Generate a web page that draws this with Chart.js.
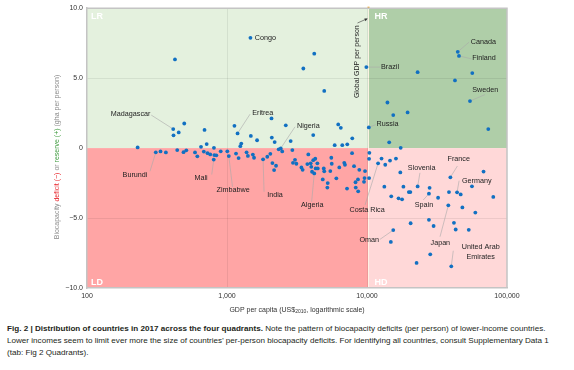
<!DOCTYPE html>
<html>
<head>
<meta charset="utf-8">
<script src="https://cdn.jsdelivr.net/npm/chart.js@4.4.1/dist/chart.umd.min.js"></script>
<style>
body{margin:0;background:#fff;width:574px;height:370px;overflow:hidden;position:relative}
#wrap{position:absolute;left:0;top:0;width:574px;height:320px}
#cap{position:absolute;left:7px;top:323px;font-family:'Liberation Sans',Arial,sans-serif;font-size:8.1px;line-height:12px;color:#231f20;white-space:nowrap}
</style>
</head>
<body>
<div id="wrap"><canvas id="quadChart" width="574" height="320"></canvas></div>
<div id="cap"><b>Fig. 2 | Distribution of countries in 2017 across the four quadrants.</b> Note the pattern of biocapacity deficits (per person) of lower-income countries.<br>Lower incomes seem to limit ever more the size of countries’ per-person biocapacity deficits. For identifying all countries, consult Supplementary Data 1<br>(tab: Fig 2 Quadrants).</div>
<script>
// named countries first, then the rest (GDP per capita US$2010, biocapacity balance gha/person)
const countries=["Congo","Madagascar","Eritrea","Nigeria","Brazil","Russia","Canada","Finland","Sweden",
"Burundi","Mali","Zimbabwe","India","Algeria","Costa Rica","Oman","Slovenia","France","Spain","Germany","Japan","United Arab\nEmirates"]

const gdp=[1470,413,1190,2420,9890,10300,44500,45400,54400,
310,804,1030,1810,4200,12000,15400,23000,39400,27700,44000,38100,40000,
230,425,452,495,415,691,1130,1265,1245,652,716,807,4200,3510,4950,2080,2630,1480,1640,2090,2190,2850,4130,
6230,6500,7850,5880,6660,7230,2340,2480,2930,
23000,56500,42500,14000,15400,19500,73500,14400,17400,
335,366,441,489,512,591,614,683,726,759,812,839,902,1005,1160,1210,1380,1410,1530,1560,1940,2040,2110,2240,2170,
3810,2960,3060,3130,3400,3470,3750,3960,4000,4130,4270,4420,4300,4450,4050,4910,4950,5470,5560,5600,6340,6880,6960,
7820,8080,8810,9680,4830,5240,5210,6040,7200,8280,8310,8650,9520,8620,9600,
10400,10350,10350,12700,14600,16100,13500,17300,68000,13300,18200,28000,19900,20400,14900,16800,17800,32200,38500,
46700,56200,79800,48000,59400,20500,27700,29900,41800,43000,53300,14800,28300,22600]

const balance=[7.88,1.36,1.05,-0.02,5.79,1.48,6.88,6.59,3.36,
-0.30,-0.82,-0.57,-0.80,-1.81,-1.09,-5.86,-2.74,-2.09,-3.26,-3.16,-4.09,-8.45,
0.05,6.34,1.12,1.76,0.91,1.30,1.59,0.32,0.14,0.09,0.29,0.02,6.75,5.69,4.09,2.12,1.63,0.87,0.56,0.75,0.43,0.50,0.93,
1.69,1.45,0.70,0.21,0.21,0.27,-0.09,-0.24,-0.14,
5.43,5.36,4.84,3.26,2.36,2.55,1.36,0.41,0.02,
-0.24,-0.31,-0.14,-0.29,-0.16,-0.31,-0.59,-0.25,-0.36,-0.45,-0.50,-0.52,-0.23,-0.23,-0.39,-0.71,-0.30,-0.56,-0.46,-0.69,-0.62,-0.41,-1.07,-1.26,-1.57,
-0.45,-1.05,-0.84,-1.12,-1.38,-1.55,-1.14,-1.09,-1.34,-0.86,-0.76,-1.09,-1.45,-1.45,-1.69,-1.45,-1.66,-1.64,-0.69,-1.12,-1.38,-1.05,-1.19,
-0.36,-1.29,-1.55,-1.64,-2.24,-2.50,-2.82,-2.16,-2.89,-2.44,-2.82,-3.09,-2.41,-2.24,-2.14,
-0.34,-0.77,-2.14,-0.75,-0.89,-0.75,-1.19,-1.74,-1.68,-2.76,-2.76,-2.84,-3.14,-3.14,-3.45,-3.59,-3.66,-3.55,-3.14,
-3.31,-2.73,-3.49,-4.24,-4.61,-5.37,-5.13,-5.57,-5.34,-5.82,-5.84,-6.71,-7.59,-8.21]

const xTicks=[100,1000,10000,100000]
const yTicks=[-10,-5,0,5,10]
const globalGdp=10250
const quadrants=["LR","HR","LD","HD"]

// label placement: name, text offset dx/dy, leader line end dx/dy (px from the point)
const callouts=[
["Congo",15,0,null,null],
["Madagascar",-42.6,-14.7,-22,-14],
["Eritrea",25.2,-20,12.5,-19.3],
["Nigeria",27.6,-22.6,14.3,-21.6],
["Brazil",23.7,0,13.7,0],
["Russia",18.7,-3.3,7,-2.8],
["Canada",25.6,-9.4,11.3,-9.7],
["Finland",25,2.6,12.7,3],
["Sweden",15.3,-10.7,15,-6.5],
["Burundi",-20.8,22.5,-5.8,19],
["Mali",-12.7,18.8,-2,15],
["Zimbabwe",4.3,34,3.7,30.7],
["India",12,36.1,1,32.5],
["Algeria",-2,32,-2.6,28.4],
["Costa Rica",-11,46.8,-13,41.5],
["Oman",-24,10,-13.3,9.3],
["Slovenia",4,-18.6,2.3,-13.6],
["France",8.4,-18.3,7,-11.3],
["Spain",-5,11.3,-5.7,6.3],
["Germany",19.7,-11,2,-11.6],
["Japan",-8,37.4,-8.3,31.4],
["United Arab\nEmirates",29.4,-14.5,2,-15.6]
]

const FONT="'Liberation Sans', Arial, sans-serif"
Chart.defaults.font.family=FONT

const quadPlugin={
id:"quadPlugin",
beforeDraw(chart){
const {ctx,chartArea:a,scales:{x,y}}=chart
const xg=x.getPixelForValue(globalGdp)
const y0=y.getPixelForValue(0)
ctx.save()
ctx.fillStyle="#e4f1de"; ctx.fillRect(a.left,a.top,xg-a.left,y0-a.top)
ctx.fillStyle="#afcea8"; ctx.fillRect(xg,a.top,a.right-xg,y0-a.top)
ctx.fillStyle="#ffa5a5"; ctx.fillRect(a.left,y0,xg-a.left,a.bottom-y0)
ctx.fillStyle="#ffd8d8"; ctx.fillRect(xg,y0,a.right-xg,a.bottom-y0)
ctx.strokeStyle="rgba(255,245,230,0.9)"; ctx.lineWidth=1
ctx.beginPath(); ctx.moveTo(xg,a.top); ctx.lineTo(xg,a.bottom); ctx.stroke()
ctx.restore()
},
beforeDatasetsDraw(chart){
const {ctx,scales:{x,y}}=chart
ctx.save()
ctx.strokeStyle="#a9a9a9"; ctx.lineWidth=0.6
callouts.forEach(c=>{
if(c[3]===null) return
const i=countries.indexOf(c[0])
const px=x.getPixelForValue(gdp[i]), py=y.getPixelForValue(balance[i])
ctx.beginPath(); ctx.moveTo(px,py); ctx.lineTo(px+c[3],py+c[4]); ctx.stroke()
})
ctx.restore()
},
afterDatasetsDraw(chart){
const {ctx,chartArea:a,scales:{x,y}}=chart
ctx.save()
ctx.fillStyle="#222"; ctx.font="7.2px "+FONT
ctx.textAlign="center"; ctx.textBaseline="middle"
callouts.forEach(c=>{
const i=countries.indexOf(c[0])
const px=x.getPixelForValue(gdp[i]), py=y.getPixelForValue(balance[i])
const lines=c[0].split("\n")
lines.forEach((t,k)=>{
ctx.fillText(t,px+c[1],py+c[2]+(k-(lines.length-1)/2)*9.7)
})
})

// quadrant names
const xg=x.getPixelForValue(globalGdp)
ctx.fillStyle="#fff"; ctx.font="bold 9px "+FONT; ctx.textAlign="left"
ctx.fillText(quadrants[0],a.left+4,a.top+8)
ctx.fillText(quadrants[1],xg+6,a.top+8)
ctx.fillText(quadrants[2],a.left+4,a.bottom-5.5)
ctx.fillText(quadrants[3],xg+6,a.bottom-5.5)

// global GDP note
ctx.fillStyle="#222"; ctx.font="7px "+FONT
ctx.save()
ctx.translate(xg-11.6,61.7); ctx.rotate(-Math.PI/2)
ctx.textAlign="center"; ctx.fillText("Global GDP per person",0,0)
ctx.restore()
ctx.strokeStyle="#333"; ctx.lineWidth=0.6
ctx.beginPath(); ctx.moveTo(xg-11,23); ctx.lineTo(xg-2,19); ctx.stroke()
ctx.beginPath(); ctx.moveTo(xg-0.8,18.5); ctx.lineTo(xg-4.2,18.6); ctx.lineTo(xg-3,21.3); ctx.closePath()
ctx.fillStyle="#333"; ctx.fill()
ctx.fillStyle="#f0a020"; ctx.fillRect(xg-1,a.top-1.5,2,2)
ctx.restore()
},
afterDraw(chart){
const {ctx,chartArea:a}=chart
ctx.save()
ctx.strokeStyle="#c4c4c4"; ctx.lineWidth=1.5
ctx.beginPath(); ctx.moveTo(a.left,a.top); ctx.lineTo(a.right,a.top); ctx.lineTo(a.right,a.bottom); ctx.stroke()

// x title with subscript
ctx.fillStyle="#333"; ctx.textBaseline="middle"; ctx.textAlign="left"
const p1="GDP per capita (US$", p2="2010", p3=", logarithmic scale)"
ctx.font="7px "+FONT; const w1=ctx.measureText(p1).width, w3=ctx.measureText(p3).width
ctx.font="5px "+FONT; const w2=ctx.measureText(p2).width
let sx=(a.left+a.right)/2-(w1+w2+w3)/2, ty=310
ctx.font="7px "+FONT; ctx.fillText(p1,sx,ty)
ctx.font="5px "+FONT; ctx.fillText(p2,sx+w1,ty+2)
ctx.font="7px "+FONT; ctx.fillText(p3,sx+w1+w2,ty)

// y title, coloured parts
const parts=[["Biocapacity ","#8a8a8a"],["deficit (−)","#e8232a"],[" or ","#8a8a8a"],["reserve (+)","#3e9b3e"],[" (gha per person)","#8a8a8a"]]
ctx.font="7px "+FONT
const total=parts.reduce((s,p)=>s+ctx.measureText(p[0]).width,0)
ctx.translate(57,157); ctx.rotate(-Math.PI/2)
let cx=-total/2
parts.forEach(p=>{ctx.fillStyle=p[1]; ctx.fillText(p[0],cx,0); cx+=ctx.measureText(p[0]).width})
ctx.restore()
}
}

const ctx=document.getElementById("quadChart").getContext("2d")

const quadChart=new Chart(ctx,{
type:"scatter",
data:{
datasets:[{
data:gdp.map((g,i)=>({x:g,y:balance[i]})),
backgroundColor:"#1170c2",
borderWidth:0,
pointRadius:1.9
}]
},
options:{
responsive:false,
animation:false,
devicePixelRatio:1,
layout:{padding:{top:8,right:67,left:0,bottom:0}},
plugins:{legend:{display:false},tooltip:{enabled:false}},
scales:{
x:{
type:"logarithmic",
min:100,max:100000,
afterBuildTicks(s){ s.ticks=xTicks.map(v=>({value:v})) },
afterFit(s){ s.height=32 },
ticks:{autoSkip:false,maxRotation:0,padding:4,color:"#333",font:{size:7},
callback:v=>Number(v).toLocaleString("en-US")},
grid:{drawTicks:false,color:c=>(c.tick&&(c.tick.value===1000||c.tick.value===10000))?"rgba(0,0,0,0.07)":"rgba(0,0,0,0)"},
border:{color:"#c4c4c4",width:1.5}
},
y:{
min:-10,max:10,
afterBuildTicks(s){ s.ticks=yTicks.map(v=>({value:v})) },
afterFit(s){ s.width=87 },
ticks:{padding:4,color:"#333",font:{size:7},
callback:v=>v===0?"0":(v<0?"−":"")+Math.abs(v).toFixed(1)},
grid:{drawTicks:false,color:c=>(c.tick&&Math.abs(c.tick.value)===5)?"rgba(0,0,0,0.07)":"rgba(0,0,0,0)"},
border:{color:"#c4c4c4",width:1.5}
}
}
},
plugins:[quadPlugin]
})
</script>
</body>
</html>
